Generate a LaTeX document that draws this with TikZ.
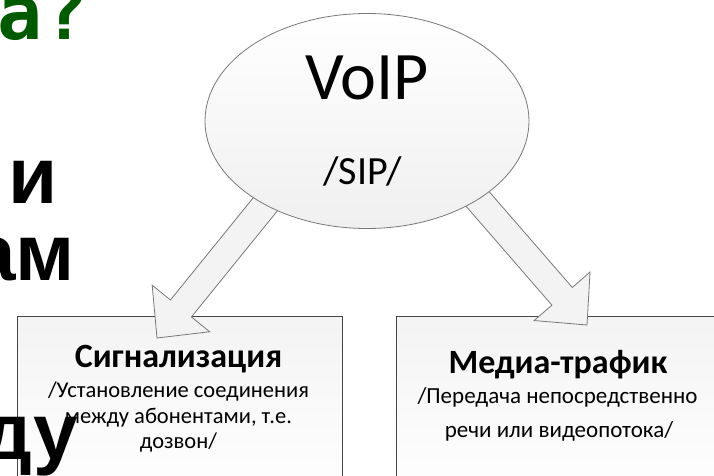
\documentclass[tikz,border=0pt]{standalone}
\usepackage{fontspec}
\setmainfont{Carlito}
\newfontfamily\slidesans{Liberation Sans}
\newfontfamily\slidemono{DejaVu Sans Mono}
\usetikzlibrary{shapes.geometric,calc}
\definecolor{titlegreen}{RGB}{0,90,0}
\definecolor{arrowfill}{RGB}{243,243,243}
\definecolor{boxline}{RGB}{70,70,70}
\definecolor{shapeline}{RGB}{120,120,120}
\tikzset{
  box/.style={draw=boxline, line width=0.8pt, top color=gray!9, bottom color=white,
    minimum width=325pt, minimum height=184pt, anchor=north west, inner sep=0pt},
  blockarrow/.style={draw=shapeline, line width=0.8pt, fill=arrowfill, line join=miter},
  slide/.style={anchor=base east, inner sep=0pt, font=\slidesans\bfseries\fontsize{80}{80}\selectfont}
}
\begin{document}
\begin{tikzpicture}[x=1pt,y=-1pt]
\useasboundingbox (0,0) rectangle (714,476);
% boxes
\node[box] (sig) at (17,316) {};
\node[box] (med) at (396,316) {};
\node[anchor=base, inner sep=0pt, font=\bfseries\fontsize{34}{34}\selectfont] (sigtitle) at (178.5,367) {Сигнализация};
\node[anchor=base, inner sep=0pt, font=\fontsize{22.5}{22.5}\selectfont] (sigone) at (178.5,397) {/Установление соединения};
\node[anchor=base, inner sep=0pt, font=\fontsize{22.5}{22.5}\selectfont] (sigtwo) at (178.5,423) {между абонентами, т.е.};
\node[anchor=base, inner sep=0pt, font=\fontsize{22.5}{22.5}\selectfont] (sigthree) at (178.5,448) {дозвон/};
\node[anchor=base, inner sep=0pt, font=\bfseries\fontsize{34}{34}\selectfont] (medtitle) at (558,373) {Медиа-трафик};
\node[anchor=base, inner sep=0pt, font=\fontsize{23}{23}\selectfont] (medone) at (557.5,403) {/Передача непосредственно};
\node[anchor=base, inner sep=0pt, font=\fontsize{23}{23}\selectfont] (medtwo) at (559,437) {речи или видеопотока/};
% ellipse position, arrows go under it
\coordinate (voipc) at (367,121);
\coordinate (sigfrom) at ($(voipc)+(-65,38)$);
\coordinate (sigtip) at ($(sig.north west)+(140,22)$);
\coordinate (sighead) at ($(sigtip)!38pt!(sigfrom)$);
\draw[blockarrow] ($(sigfrom)!13.5pt!90:(sigtip)$) -- ($(sighead)!13.5pt!90:(sigtip)$)
  -- ($(sighead)!37pt!90:(sigtip)$) -- (sigtip) -- ($(sighead)!37pt!-90:(sigtip)$)
  -- ($(sighead)!13.5pt!-90:(sigtip)$) -- ($(sigfrom)!13.5pt!-90:(sigtip)$) -- cycle;
\coordinate (medfrom) at ($(voipc)+(69,30)$);
\coordinate (medtip) at ($(med.north west)+(191,9)$);
\coordinate (medhead) at ($(medtip)!38pt!(medfrom)$);
\draw[blockarrow] ($(medfrom)!13.5pt!90:(medtip)$) -- ($(medhead)!13.5pt!90:(medtip)$)
  -- ($(medhead)!37pt!90:(medtip)$) -- (medtip) -- ($(medhead)!37pt!-90:(medtip)$)
  -- ($(medhead)!13.5pt!-90:(medtip)$) -- ($(medfrom)!13.5pt!-90:(medtip)$) -- cycle;
\node[ellipse, draw=shapeline, line width=0.8pt, top color=white, bottom color=gray!12,
  minimum width=324pt, minimum height=215pt, inner sep=0pt] (voip) at (voipc) {};
\node[anchor=base, inner sep=0pt, font=\fontsize{68}{68}\selectfont] (voiptext) at (367,100) {VoIP};
\node[anchor=base, inner sep=0pt, font=\fontsize{40}{40}\selectfont] (siptext) at (362.5,184) {/SIP/};
% slide text left over
\node[anchor=base east, inner sep=0pt, text=titlegreen, font=\slidemono\bfseries\fontsize{75}{75}\selectfont] (title) at (88.5,40) {a?};
\node[slide] (lineone) at (58,203) {и};
\node[slide] (linetwo) at (75,280) {ам};
\node[slide] (linethree) at (78,459) {ду};
\end{tikzpicture}
\end{document}
